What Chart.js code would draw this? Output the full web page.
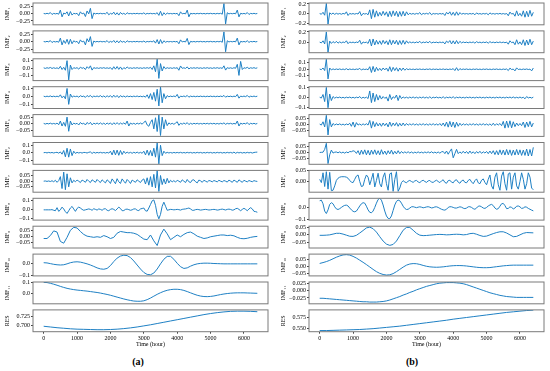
<!DOCTYPE html>
<html><head><meta charset="utf-8">
<script src="https://cdn.jsdelivr.net/npm/chart.js@4.4.1/dist/chart.umd.min.js"></script>
<style>
html,body{margin:0;padding:0;background:#fff;}
body{width:550px;height:371px;position:relative;overflow:hidden;}
canvas{position:absolute;}
.cap{position:absolute;font-family:"Liberation Serif",serif;font-weight:bold;font-size:10px;line-height:12px;transform:translateX(-50%);top:356px;color:#000;}
</style></head><body>
<div class="cap" style="left:138px">(a)</div>
<div class="cap" style="left:412px">(b)</div>
<script>
// ---------- data: panel (a) ----------
const imfA1=[.005,-.008,.01,-.006,.035,-.03,.008,-.01,.006,-.02,
.12,-.11,.02,-.01,.06,-.08,.07,-.05,.01,-.008,
.01,-.07,.06,-.01,.02,-.1,.09,-.01,.18,-.17,
.02,-.01,.008,-.006,.01,-.008,.006,-.01,.045,-.04,
.01,-.02,.05,-.04,.03,-.05,.04,-.02,.01,-.03,
.03,-.008,.006,-.01,.008,-.006,.01,-.008,.006,-.01,
.025,-.02,.008,-.006,.01,-.008,.006,-.01,.03,-.06,
.08,-.07,.03,-.035,.02,-.008,.006,-.01,.008,-.006,
.01,-.07,.06,-.01,.008,-.01,.12,-.11,.01,-.008,
.006,-.01,.008,-.006,.01,-.008,.006,-.01,.008,-.006,
.01,-.008,.006,-.01,.008,-.006,.01,-.02,.34,-.35,
.03,-.01,.008,-.006,.01,-.008,.12,-.11,.01,-.008,
.006,-.01,.035,-.03,.008,-.006,.01,-.008,.006];
const imfA2=[.005,-.008,.01,-.006,.035,-.03,.008,-.01,.006,-.02,
.12,-.11,.04,-.06,.08,-.09,.08,-.07,.03,-.01,
.01,-.07,.06,-.01,.02,-.11,.1,-.01,.17,-.16,
.02,-.01,.008,-.006,.01,-.008,.006,-.01,.035,-.03,
.01,-.02,.04,-.035,.03,-.04,.035,-.02,.01,-.03,
.03,-.008,.006,-.01,.008,-.006,.01,-.008,.006,-.01,
.02,-.02,.008,-.006,.01,-.008,.03,-.05,.07,-.08,
.07,-.06,.03,-.02,.008,-.008,.006,-.01,.008,-.006,
.01,-.07,.06,-.01,.008,-.01,.11,-.1,.01,-.008,
.006,-.01,.008,-.006,.01,-.008,.006,-.01,.008,-.006,
.01,-.008,.006,-.01,.008,-.006,.01,-.02,.33,-.34,
.03,-.01,.008,-.006,.01,-.008,.12,-.11,.01,-.008,
.006,-.01,.03,-.025,.008,-.006,.01,-.008,.006];
const imfA3=[.003,-.005,.004,-.003,.008,-.006,.004,-.005,.003,-.01,
.023,-.02,.01,-.03,.1,-.16,.04,-.02,.005,-.004,
.005,-.015,.012,-.004,.005,-.02,.018,-.005,.03,-.028,
.006,-.004,.003,-.005,.004,-.003,.005,-.004,.003,-.005,
.006,-.02,.018,-.015,.02,-.018,.015,-.02,.006,-.01,
.015,-.004,.003,-.005,.004,-.003,.005,-.004,.003,-.005,
.004,-.003,.005,-.004,.01,-.02,.03,-.05,.12,-.14,
.06,-.04,.02,-.01,.005,-.004,.003,-.005,.004,-.003,
.005,-.03,.028,-.004,.003,-.005,.015,-.013,.004,-.003,
.004,-.003,.005,-.004,.003,-.005,.004,-.003,.005,-.004,
.003,-.005,.004,-.003,.005,-.004,.003,-.005,.03,-.028,
.005,-.004,.003,-.005,.004,-.003,.05,-.1,.09,-.02,
.004,-.003,.01,-.008,.004,-.003,.005,-.004,.003];
const imfA4=[.003,-.004,.003,-.003,.006,-.005,.003,-.004,.003,-.006,
.02,-.018,.006,-.03,.1,-.1,.03,-.01,.004,-.003,
.004,-.01,.009,-.003,.004,-.012,.011,-.004,.012,-.011,
.004,-.003,.005,-.004,.01,-.008,.006,-.01,.008,-.006,
.01,-.012,.015,-.01,.012,-.015,.01,-.006,.005,-.008,
.006,-.004,.003,-.005,.004,-.003,.005,-.004,.003,-.005,
.004,-.01,.02,-.025,.035,-.04,.05,-.06,.09,-.12,
.12,-.08,.035,-.03,.01,-.005,.004,-.003,.005,-.004,
.025,-.022,.004,-.003,.005,-.004,.012,-.01,.004,-.003,
.003,-.004,.003,-.003,.004,-.003,.003,-.004,.003,-.003,
.004,-.003,.003,-.004,.003,-.003,.004,-.003,.012,-.01,
.004,-.003,.003,-.004,.003,-.003,.025,-.022,.004,-.003,
.004,-.003,.012,-.01,.003,-.003,.004,-.003,.003];
const imfA5=[.002,-.003,.002,-.002,.004,-.003,.002,-.003,.004,-.008,
.02,-.018,.01,-.02,.05,-.058,.02,-.01,.004,-.003,
.003,-.01,.009,-.003,.004,-.01,.009,-.003,.01,-.009,
.004,-.003,.005,-.004,.006,-.005,.004,-.006,.005,-.004,
.006,-.008,.007,-.005,.008,-.006,.005,-.004,.006,-.005,
.02,-.018,.005,-.004,.003,-.005,.004,-.003,.005,-.004,
.01,.02,-.01,-.02,.01,.03,-.04,.045,-.06,.066,
-.09,.05,-.04,.03,-.015,.006,-.004,.003,-.005,.004,
.015,-.013,.003,-.004,.005,-.003,.008,-.007,.003,-.004,
.003,-.002,.003,-.003,.002,-.003,.003,-.002,.003,-.003,
.003,-.002,.003,-.003,.002,-.003,.003,-.002,.006,-.005,
.003,-.002,.003,-.003,.002,-.003,.02,-.018,.004,-.003,
.003,-.002,.008,-.007,.003,-.002,.003,-.003,.002];
const imfA6=[0,.003,-.003,.004,-.002,.003,-.004,.002,.005,-.006,
.01,-.02,.03,-.055,.06,-.06,.05,-.04,.02,-.01,
.005,-.004,.003,-.005,.004,.002,-.004,.005,.01,-.01,
.006,-.005,.004,-.003,.005,-.004,.003,-.005,.004,-.006,
.02,-.03,.035,-.03,.035,-.035,.03,-.025,.02,-.01,
.008,-.006,.005,-.008,.006,-.005,.008,-.006,.005,-.008,
.02,-.03,.035,-.035,.03,-.045,.06,-.06,.13,-.15,
.1,-.04,.02,-.008,.005,-.004,.003,-.005,.004,-.003,
.004,-.003,.005,-.004,.003,-.004,.005,-.003,.004,-.005,
.003,-.004,.005,-.003,.004,-.005,.003,-.004,.005,-.003,
.004,-.005,.003,-.004,.005,-.003,.004,-.005,.003,-.004,
.005,-.003,.004,-.005,.008,-.008,.005,-.003,.004,-.005,
.003,-.004,.005,-.003,.004,-.005,.003,.006,.008];
const imfA7=[0,.002,-.002,.002,-.003,.004,-.005,.008,-.01,.005,
.04,-.065,.08,-.075,.065,-.05,.03,-.015,.008,-.005,
.01,0,-.012,.01,.002,-.01,.015,0,-.012,.012,
.002,-.01,.015,0,-.012,.012,-.002,-.015,.012,0,
-.02,.02,0,-.022,.022,-.005,-.02,.02,0,-.018,
.015,0,-.02,.01,0,-.01,.012,0,-.012,.01,
.02,-.025,.03,-.035,.04,-.05,.06,-.06,.095,-.09,
.05,-.03,.02,-.025,.025,-.015,.008,-.006,.005,-.008,
.008,0,-.01,.012,0,-.012,.015,-.005,-.012,.01,
.012,-.005,-.015,.01,.003,-.01,.008,0,-.008,.006,
.002,-.006,.006,0,-.006,.008,0,-.006,.006,0,
-.008,.01,0,-.01,.01,0,-.01,.012,0,-.01,
.008,0,-.006,.006,0,-.005,.005,0,-.002];
const imfA8=[0,0,0,0,0,.002,-.005,-.01,.024,-.017,
0,.03,.01,-.02,-.04,-.01,.02,.038,.01,-.017,
.015,.03,.02,.005,-.005,0,.005,.01,.005,-.005,
.012,.005,-.003,.01,.005,-.005,.01,.012,-.005,-.01,
.005,.012,.005,-.008,.01,.03,.015,-.01,-.008,.005,
.008,.002,-.005,0,.01,.01,-.005,-.008,.01,.015,
.02,-.01,-.015,.02,.06,.1,.11,.05,-.05,-.1,
-.05,.04,.085,.04,-.005,0,.005,.003,0,.002,
.005,.002,-.003,.005,.008,.01,.015,.02,.01,-.005,
-.005,.002,.005,.002,-.003,0,.003,.005,.002,-.002,
0,.003,.005,.002,-.003,0,.005,.008,.003,-.002,
.005,.008,.004,-.004,0,.012,.017,.005,-.01,.005,
.017,.005,-.01,.01,.024,.01,-.017,-.02,-.027];
const imfA9=[-.02,-.02,.005,.045,.035,-.045,-.06,-.01,.05,.075,
.07,.04,.015,0,-.005,-.01,-.005,-.01,.005,-.005,
-.02,-.01,.025,.04,.035,.03,.03,.025,.015,-.005,
-.025,-.03,.01,-.04,-.08,.01,.06,.02,-.03,-.01,
.01,-.005,.015,.03,.035,.02,0,-.01,-.02,-.015,
-.005,0,.005,.01,.01,.005,.008,.003,-.01,-.02,
-.022,-.018,-.01,-.005,-.002];
const imfA10=[.01,.008,.002,-.004,-.008,-.01,-.008,0,.01,.016,
.018,.015,.008,0,-.01,-.022,-.035,-.044,-.047,-.04,
-.015,.02,.05,.068,.075,.072,.055,.025,-.01,-.045,
-.075,-.092,-.095,-.08,-.045,0,.04,.065,.066,.04,
.005,-.025,-.04,-.035,-.02,-.008,0,.004,.006,.006,
.005,.003,.002,.001,0,0,0,0,0,0,
0,0,0,0,0];
const imfA11=[.1,.098,.092,.084,.075,.065,.056,.048,.042,.037,
.033,.03,.027,.024,.02,.016,.012,.007,.001,-.005,
-.012,-.02,-.028,-.036,-.044,-.051,-.057,-.062,-.064,-.064,
-.06,-.05,-.036,-.02,-.004,.01,.022,.031,.037,.04,
.04,.037,.03,.02,.009,-.002,-.012,-.019,-.023,-.024,
-.022,-.018,-.012,-.006,-.001,.003,.006,.008,.009,.009,
.009,.008,.007,.006,.005];
const resA=[.697,.695,.693,.6915,.69,.689,.6885,.688,.6875,.6875,.688,.689,.6905,.6925,.695,.698,.701,
.7045,.708,.7115,.715,.7185,.722,.7255,.729,.732,.7345,.7365,.738,.7385,.7385,.738,.737];

// ---------- data: panel (b) ----------
const imfB1=[.005,-.01,.03,-.03,.21,-.21,.02,-.01,.015,-.012,
.01,-.008,.006,-.01,.008,-.006,.04,-.035,.008,-.006,
.005,-.008,.006,-.005,.045,-.04,.008,-.006,.005,-.02,
.08,-.1,.09,-.07,.06,-.05,.03,-.04,.05,-.03,
.04,-.06,.05,-.055,.06,-.04,.05,-.06,.045,-.05,
.05,-.045,.04,-.02,.01,-.008,.006,-.01,.008,-.006,
.025,-.02,.008,-.006,.01,-.008,.025,-.02,.006,-.005,
.005,-.008,.006,-.005,.008,-.035,.03,-.006,.04,-.03,
.03,-.035,.04,-.03,.025,-.01,.008,-.006,.005,-.008,
.006,-.005,.008,-.02,.018,-.006,.005,-.008,.006,-.005,
.008,-.02,.018,-.006,.005,-.008,.006,-.005,.008,-.006,
.005,-.008,.006,-.04,.035,-.006,.008,-.05,.06,-.04,
.01,-.05,.06,-.07,.05,-.06,.07,-.05,.03];
const imfB2=[.005,-.01,.03,-.03,.2,-.19,.025,-.02,.015,-.012,
.02,-.015,.01,-.01,.008,-.006,.03,-.025,.008,-.006,
.005,-.008,.006,-.005,.04,-.035,.008,-.006,.005,-.02,
.06,-.07,.065,-.05,.04,-.035,.03,-.04,.04,-.025,
.03,-.045,.05,-.045,.04,-.03,.04,-.045,.035,-.04,
.04,-.035,.03,-.015,.01,-.008,.006,-.01,.008,-.006,
.02,-.015,.008,-.006,.01,-.008,.02,-.015,.006,-.005,
.005,-.008,.006,-.005,.008,-.03,.025,-.006,.035,-.03,
.03,-.03,.035,-.025,.02,-.01,.008,-.006,.005,-.008,
.006,-.005,.008,-.015,.014,-.006,.005,-.008,.006,-.005,
.008,-.015,.014,-.006,.005,-.008,.006,-.005,.008,-.006,
.005,-.008,.006,-.035,.03,-.006,.008,-.045,.05,-.035,
.01,-.045,.05,-.06,.045,-.05,.06,-.045,.025];
const imfB3=[.003,-.005,.02,-.02,.155,-.15,.02,-.01,.006,-.005,
.005,-.004,.006,-.005,.004,-.006,.01,-.008,.005,-.004,
.003,-.005,.004,-.003,.015,-.012,.005,-.004,.003,-.008,
.04,-.05,.045,-.04,.03,-.02,.015,-.02,.02,-.01,
.02,-.03,.04,-.035,.03,-.02,.025,-.03,.02,-.02,
.02,-.015,.01,-.006,.005,-.004,.003,-.005,.004,-.003,
.005,-.004,.003,-.005,.004,-.003,.006,-.005,.004,-.003,
.003,-.005,.004,-.003,.005,-.004,.003,-.005,.004,-.003,
.01,-.02,.025,-.02,.01,-.005,.004,-.003,.005,-.004,
.003,-.005,.004,-.003,.005,-.004,.003,-.005,.004,-.003,
.005,-.004,.003,-.005,.004,-.003,.005,-.004,.003,-.005,
.004,-.003,.005,-.02,.018,-.004,.003,-.025,.022,-.004,
.003,-.005,.004,-.003,.005,-.004,.003,-.025,.02];
const imfB4=[.003,-.005,.03,-.04,.1,-.1,.035,-.03,.01,-.006,
.004,-.003,.005,-.004,.003,-.005,.004,-.003,.005,-.004,
.003,-.005,.004,-.003,.01,-.008,.003,-.005,.004,-.01,
.065,-.05,.045,-.04,.03,-.025,.02,-.015,.01,-.008,
.005,-.035,.03,-.02,.008,-.006,.025,-.03,.02,-.01,
.006,-.005,.004,-.006,.005,-.004,.006,-.005,.004,-.006,
.005,-.004,.006,-.005,.004,-.006,.008,-.007,.004,-.003,
.005,-.004,.003,-.005,.008,-.007,.004,-.003,.005,-.004,
.008,-.007,.004,-.003,.005,-.004,.003,-.005,.004,-.003,
.005,-.004,.003,-.005,.004,-.003,.005,-.004,.003,-.005,
.004,-.003,.005,-.004,.003,-.005,.004,-.003,.005,-.004,
.003,-.005,.004,-.003,.005,-.004,.006,-.005,.003,-.004,
.005,-.004,.003,-.012,.01,-.004,.003,-.005,.004];
const imfB5=[.003,-.005,.022,-.02,.075,-.086,.04,-.02,.008,-.005,
.004,-.003,.005,-.004,.003,-.005,.004,-.003,.01,-.015,
.02,-.022,.015,-.005,.004,-.006,.005,-.004,.006,-.005,
.033,-.03,.025,-.018,.015,-.012,.01,-.015,.012,-.01,
.01,-.02,.02,-.015,.012,-.01,.015,-.015,.01,-.012,
.012,-.01,.008,-.006,.005,-.004,.006,-.005,.004,-.006,
.005,-.004,.006,-.005,.004,-.006,.005,-.004,.006,-.005,
.004,-.006,.008,-.01,.012,-.015,.02,-.022,.025,-.02,
.02,-.025,.018,-.015,.01,-.008,.006,-.005,.004,-.006,
.005,-.004,.006,-.005,.004,-.006,.005,-.004,.006,-.005,
.004,-.006,.005,-.008,.01,-.008,.006,-.005,.008,-.01,
.025,-.03,.028,-.025,.03,-.028,.022,-.018,.012,-.01,
.008,-.01,.02,-.025,.02,-.018,.025,-.02,.012];
const imfB6=[0,.001,.002,.026,.077,-.094,-.02,.02,-.005,.002,
.004,-.003,.005,-.004,.003,-.006,.004,-.003,.008,.006,
.014,.01,-.008,.015,-.02,.02,-.015,.022,-.02,.018,
-.022,.02,-.015,.022,-.018,.015,-.02,.023,-.015,.012,
-.018,.015,-.012,.02,-.015,.01,-.012,.015,-.01,.008,
-.006,.005,-.004,.006,-.005,.004,-.006,.003,-.004,.005,
-.004,.003,-.005,.004,-.003,.005,-.004,.006,-.005,.003,
-.005,.004,-.006,.005,.008,-.01,.012,-.015,.01,.03,
-.045,-.01,.026,-.01,.005,-.008,.01,-.006,.008,-.01,
.012,-.008,.006,-.01,.008,-.006,.01,-.008,.006,-.005,
.008,-.01,.012,-.01,.015,-.018,.015,-.02,.022,-.018,
.02,-.022,.025,-.02,.022,-.025,.02,-.022,.025,-.02,
.022,-.025,.02,-.025,.028,-.03,.025,-.03,.043];
const imfB7=[.01,-.005,.04,-.023,.045,-.035,.042,-.042,-.04,-.02,
.005,.015,.02,.022,.022,.022,.02,.015,.005,-.003,
-.005,.01,.025,.03,0,-.023,-.02,.01,.03,.02,
-.015,.01,.038,-.025,.005,.038,-.01,-.025,.02,.04,
-.01,-.04,.035,.04,-.045,.01,.045,-.045,-.03,-.005,
.004,-.002,-.006,.002,.005,0,-.004,.003,.005,-.002,
-.005,.002,.006,0,-.004,.003,.005,-.003,-.004,.002,
.006,0,-.005,.003,.008,-.004,-.008,.004,.006,-.003,
-.006,.005,.008,-.003,-.008,.003,.007,-.004,-.006,.005,
.01,-.002,-.01,.004,.012,-.006,-.01,.006,.012,-.004,
-.015,.01,.03,-.02,-.035,.02,.04,-.015,-.04,.025,
.045,-.01,-.04,.035,.04,-.035,.02,.04,-.02,-.035,
0,.04,.01,-.035,-.01,.04,.02,-.03,-.038];
const imfB8=[.055,.06,.03,-.03,-.05,-.02,.025,.039,.03,.005,
-.012,-.017,-.01,0,.01,.017,.019,.012,-.005,-.02,
-.032,-.036,-.03,-.01,.012,.03,.039,.035,.01,-.02,
-.04,-.044,-.03,0,.035,.065,.075,.06,.02,-.03,
-.07,-.09,-.092,-.07,-.025,.02,.05,.06,.055,.035,
.01,-.008,-.017,-.015,-.005,.005,.006,.002,-.002,.002,
.005,.002,-.003,0,.004,.006,.002,-.004,-.002,.004,
.005,0,-.008,-.015,-.02,-.022,-.015,0,.006,.005,
0,-.005,-.005,0,.005,.002,-.006,-.01,-.005,.005,
.006,0,-.01,-.015,-.005,.01,.012,.005,-.005,-.008,
0,.012,.02,.025,.015,-.005,-.015,-.01,.01,.03,
.033,.015,-.01,-.008,.005,0,-.012,-.005,.01,.012,
.005,-.008,-.005,.005,.002,-.008,-.015,-.022,-.028];
const imfB9=[-.003,-.003,-.002,0,.005,.01,.01,.005,-.002,-.009,
-.01,-.003,.012,.028,.045,.05,.04,.018,-.012,-.04,
-.06,-.068,-.062,-.04,-.005,.03,.048,.048,.03,.01,
-.002,-.005,-.004,-.002,0,.002,.003,.002,0,.001,
.003,.004,.003,0,.002,.008,.01,.004,-.004,-.01,
-.008,0,.008,.015,.02,.02,.012,0,-.012,-.01,
0,.01,.015,.014,.013];
const imfB10=[.02,.026,.033,.042,.053,.064,.073,.08,.082,.079,
.07,.058,.043,.028,.012,-.005,-.022,-.038,-.05,-.058,
-.062,-.06,-.052,-.038,-.022,-.006,.008,.016,.019,.018,
.013,.006,0,-.004,-.006,-.007,-.006,-.004,-.001,.002,
.004,.005,.005,.004,.002,-.001,-.004,-.007,-.009,-.01,
-.01,-.009,-.006,-.003,0,.003,.005,.007,.008,.008,
.008,.008,.008,.008,.008];
const imfB11=[-.026,-.026,-.027,-.028,-.029,-.03,-.031,-.032,-.033,-.034,
-.035,-.036,-.037,-.038,-.038,-.039,-.039,-.039,-.038,-.037,
-.035,-.032,-.028,-.024,-.02,-.015,-.011,-.006,-.002,.003,
.007,.011,.015,.018,.021,.024,.026,.027,.028,.028,
.028,.027,.026,.024,.021,.017,.013,.009,.005,.001,
-.003,-.007,-.01,-.013,-.016,-.018,-.02,-.021,-.022,-.023,
-.023,-.023,-.023,-.023,-.023];
const resB=[.5445,.5445,.545,.5455,.546,.5465,.547,.548,.549,.5505,.552,.5535,.555,.557,.559,.561,.563,
.565,.567,.569,.5715,.5735,.5755,.5775,.5795,.5815,.5835,.5855,.5875,.589,.5905,.592,.593];

// sampling interval (hours) of each series
const sampleStepA=[50,50,50,50,50,50,50,50,100,100,100,200];
const sampleStepB=[50,50,50,50,50,50,50,50,100,100,100,200];

// y-axis labels and tick labels
const rowNames=['IMF₁','IMF₂','IMF₃','IMF₄','IMF₅','IMF₆','IMF₇','IMF₈','IMF₉','IMF₁₀','IMF₁₁','RES'];
const tickLabelsA=[['0.25','0.00','−0.25'],['0.25','0.00','−0.25'],['0.1','0.0','−0.1'],['0.1','0.0','−0.1'],
['0.05','0.00','−0.05'],['0.1','0.0','−0.1'],['0.05','0.00','−0.05'],['0.1','0.0','−0.1'],
['0.05','0.00','−0.05'],['0.0','−0.1'],['0.1','0.0'],['0.725','0.700']];
const tickLabelsB=[['0.2','0.0','−0.2'],['0.2','0.0'],['0.1','0.0','−0.1'],['0.1','0.0','−0.1'],
['0.05','0.00','−0.05'],['0.05','0.00','−0.05'],['0.05','0.00'],['0.0','−0.1'],
['0.05','0.00','−0.05'],['0.05','0.00','−0.05'],['0.025','0.000','−0.025'],['0.575','0.550']];
const timeTicks=[0,1000,2000,3000,4000,5000,6000];
const xLabel='Time (hour)';

// axis limits
const yLimA=[[-.38,.36],[-.373,.363],[-.17,.125],[-.152,.122],[-.097,.069],[-.156,.137],
[-.097,.095],[-.114,.128],[-.101,.085],[-.105,.085],[-.086,.103],[.682,.742]];
const yLimB=[[-.225,.22],[-.198,.22],[-.176,.163],[-.108,.107],[-.098,.081],[-.1,.084],
[-.049,.051],[-.104,.075],[-.085,.056],[-.068,.086],[-.045,.03],[.5418,.5935]];
const xLim=[-320,6720];

const seriesA=[imfA1,imfA2,imfA3,imfA4,imfA5,imfA6,imfA7,imfA8,imfA9,imfA10,imfA11,resA];
const seriesB=[imfB1,imfB2,imfB3,imfB4,imfB5,imfB6,imfB7,imfB8,imfB9,imfB10,imfB11,resB];

// ---------- layout / style ----------
const FONT='"Liberation Serif","Times New Roman",serif';
const LINE='#1f80c4', FRAME='#7a7a7a', TICKC='#444';
const TOP0=3, PITCH=27.9, H=21.8, PADT=8, PADB=8, XH=17.6, YW=33;
const panels=[
 {left:0, right:268, series:seriesA, steps:sampleStepA, lims:yLimA, labels:tickLabelsA},
 {left:276, right:544, series:seriesB, steps:sampleStepB, lims:yLimB, labels:tickLabelsB}
];
const framePlugin={id:'frame',afterDatasetsDraw(c){const a=c.chartArea,ctx=c.ctx;ctx.save();ctx.strokeStyle=FRAME;ctx.lineWidth=1;
 ctx.strokeRect(a.left,a.top,a.right-a.left,a.bottom-a.top);ctx.restore();}};

panels.forEach(p=>{
 p.series.forEach((vals,r)=>{
  const last=(r===p.series.length-1);
  const frameTop=TOP0+PITCH*r;
  const cTop=Math.floor(frameTop)-PADT;
  const padTop=frameTop-cTop;
  const w=p.right+4-p.left;
  const h=Math.ceil(padTop+H+(last?XH+2:PADB));
  const padBottom=h-padTop-H-(last?XH:0);
  const cv=document.createElement('canvas');
  cv.width=w;cv.height=h;cv.style.left=p.left+'px';cv.style.top=cTop+'px';
  cv.style.width=w+'px';cv.style.height=h+'px';
  document.body.appendChild(cv);
  const step=p.steps[r];
  const pts=vals.map((v,i)=>({x:i*step,y:v}));
  const lbls=p.labels[r];
  const tv=lbls.map(s=>parseFloat(s.replace('−','-')));
  new Chart(cv,{type:'line',
   data:{datasets:[{data:pts,borderColor:LINE,borderWidth:1,pointRadius:0,tension:0,fill:false}]},
   options:{responsive:false,animation:false,devicePixelRatio:1,events:[],parsing:false,normalized:true,
    layout:{padding:{top:padTop,right:4,bottom:padBottom,left:0}},
    plugins:{legend:{display:false},tooltip:{enabled:false}},
    scales:{
     x:{type:'linear',min:xLim[0],max:xLim[1],display:last,
      afterBuildTicks:s=>{s.ticks=timeTicks.map(v=>({value:v}));},
      afterFit:s=>{s.height=last?XH:0;},
      grid:{drawOnChartArea:false,drawTicks:true,tickLength:2,color:TICKC},
      border:{display:false},
      ticks:{font:{family:FONT,size:6},color:'#000',padding:1,maxRotation:0,autoSkip:false,callback:v=>String(v)},
      title:{display:true,text:xLabel,font:{family:FONT,size:6},color:'#000',padding:{top:0,bottom:1}}},
     y:{type:'linear',min:p.lims[r][0],max:p.lims[r][1],
      afterBuildTicks:s=>{s.ticks=tv.map(v=>({value:v}));},
      afterFit:s=>{s.width=YW;},
      grid:{drawOnChartArea:false,drawTicks:true,tickLength:2,color:TICKC},
      border:{display:false},
      ticks:{font:{family:FONT,size:6},color:'#000',padding:1,autoSkip:false,
        callback:(v,i)=>{const k=tv.findIndex(t=>Math.abs(t-v)<1e-9);return k>=0?lbls[k]:'';}},
      title:{display:true,text:rowNames[r],font:{family:FONT,size:6},color:'#000',padding:{top:4,bottom:0}}}
    }},
   plugins:[framePlugin]});
 });
});
</script>
</body></html>
